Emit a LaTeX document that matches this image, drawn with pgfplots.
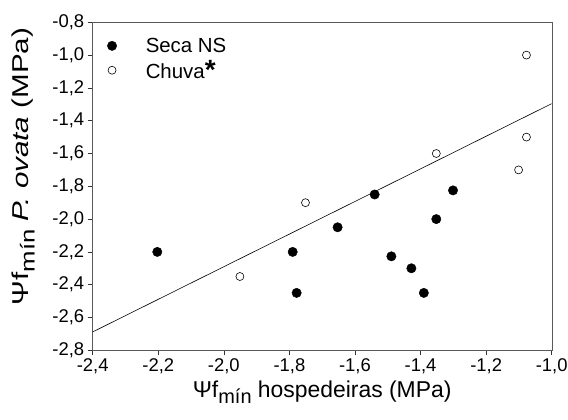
\documentclass[border=0pt]{standalone}
\usepackage{fontspec}
\setmainfont{Liberation Sans}
\usepackage{pgfplots}
\pgfplotsset{compat=1.18}
\newcommand{\sub}[1]{\raisebox{-0.5ex}{\fontsize{20}{20}\selectfont #1}}
\begin{document}
\begin{tikzpicture}
\begin{axis}[
  name=ax,
  scale only axis, width=459bp, height=328bp,
  xmin=-2.4, xmax=-1.0, ymin=-2.8, ymax=-0.8,
  xtick={-2.4,-2.2,-2.0,-1.8,-1.6,-1.4,-1.2,-1.0},
  ytick={-2.8,-2.6,-2.4,-2.2,-2.0,-1.8,-1.6,-1.4,-1.2,-1.0,-0.8},
  tick align=outside, xtick pos=bottom, ytick pos=left,
  major tick length=5bp,
  axis line style={black!65},
  tick style={black!80, line width=0.6pt},
  /pgf/number format/use comma,
  /pgf/number format/fixed,
  /pgf/number format/fixed zerofill,
  /pgf/number format/precision=1,
  /pgf/number format/assume math mode=true,
  ticklabel style={font=\fontsize{18.5}{20}\selectfont},
  xlabel={Ψf\sub{mín} hospedeiras (MPa)},
  ylabel={\scalebox{1.29}[1]{Ψf\sub{mín} \textit{P. ovata} (MPa)}},
  ylabel style={at={(ticklabel cs:0.56)}},
  ylabel shift=11bp,
  label style={font=\fontsize{23}{25}\selectfont},
  legend style={draw=none, fill=none, at={(0.025,0.965)}, anchor=north west,
    font=\fontsize{20.5}{22}\selectfont, row sep=3bp, column sep=27bp},
  legend cell align=left,
]
\addplot[only marks, mark=*, mark size=4.7bp, black] coordinates {
  (-2.203,-2.20) (-1.79,-2.20) (-1.778,-2.45) (-1.653,-2.05) (-1.54,-1.85)
  (-1.489,-2.227) (-1.428,-2.30) (-1.39,-2.45) (-1.352,-2.00) (-1.301,-1.825)
};
\addlegendentry{Seca NS}
\addplot[only marks, mark=o, mark size=4bp, black, line width=0.6pt] coordinates {
  (-1.951,-2.35) (-1.751,-1.90) (-1.352,-1.60) (-1.101,-1.70) (-1.077,-1.50) (-1.077,-1.00)
};
\addlegendentry{Chuva\raisebox{-0.15ex}{\fontsize{28}{28}\selectfont\bfseries *}}
\addplot[black, line width=0.6pt, forget plot] coordinates {(-2.4,-2.688) (-1.0,-1.296)};
\end{axis}
\pgfresetboundingbox
\path ([xshift=-92.7bp,yshift=-69bp]ax.south west) rectangle ([xshift=16.3bp,yshift=22.3bp]ax.north east);
\end{tikzpicture}
\end{document}
